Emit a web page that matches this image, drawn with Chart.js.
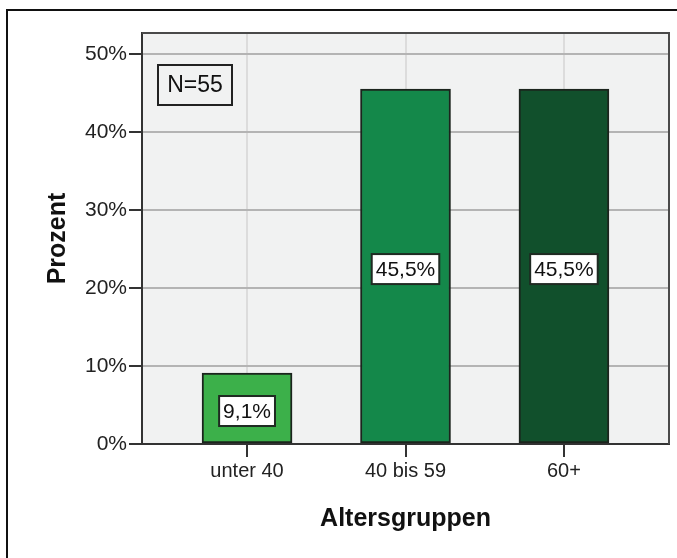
<!DOCTYPE html>
<html>
<head>
<meta charset="utf-8">
<script src="https://cdn.jsdelivr.net/npm/chart.js@4/dist/chart.umd.min.js"></script>
<style>
  body { margin: 0; background: #fff; }
  #wrap { position: relative; width: 677px; height: 558px; }
  #frame { position: absolute; left: 6px; top: 9px; right: 0; bottom: 0;
           border-top: 2px solid #111; border-left: 2px solid #111; pointer-events: none; }
</style>
</head>
<body>
<div id="wrap">
  <canvas id="chart" width="677" height="558"></canvas>
  <div id="frame"></div>
</div>
<script>
// Altersgruppen, Anteil in Prozent
const categories = ['unter 40', '40 bis 59', '60+'];
const percents = [9.1, 45.5, 45.5];
const barColors = ['#3cb04a', '#14884a', '#11502c'];
const sampleNote = 'N=55';
const xTitle = 'Altersgruppen';
const yTitle = 'Prozent';

const FONT = 'Arial, "Liberation Sans", sans-serif';

const fmtPct = (v) => v.toFixed(1).replace('.', ',') + '%';

// Hintergrund, Rahmen und Beschriftungen im Plotbereich
const plotDecor = {
    id: 'plotDecor',
    beforeDraw(chart) {
        const { ctx, chartArea: a } = chart;
        ctx.save();
        ctx.fillStyle = '#f1f2f2';
        ctx.fillRect(a.left, a.top, a.right - a.left, a.bottom - a.top);
        ctx.restore();
    },
    afterDatasetsDraw(chart) {
        const { ctx, chartArea: a } = chart;
        ctx.save();

        // Rahmen oben/rechts
        ctx.strokeStyle = '#4a4a4a';
        ctx.lineWidth = 2;
        ctx.beginPath();
        ctx.moveTo(a.left, a.top);
        ctx.lineTo(a.right, a.top);
        ctx.lineTo(a.right, a.bottom);
        ctx.stroke();

        // Werte-Boxen in den Balken
        ctx.font = '21px ' + FONT;
        ctx.textAlign = 'center';
        ctx.textBaseline = 'middle';
        const meta = chart.getDatasetMeta(0);
        meta.data.forEach((bar, i) => {
            const txt = fmtPct(percents[i]);
            const w = ctx.measureText(txt).width + 8;
            const h = 30;
            const cy = (bar.y + bar.base) / 2 + 3;
            ctx.fillStyle = '#fff';
            ctx.fillRect(bar.x - w / 2, cy - h / 2, w, h);
            ctx.strokeStyle = '#1f2a22';
            ctx.lineWidth = 2;
            ctx.strokeRect(bar.x - w / 2, cy - h / 2, w, h);
            ctx.fillStyle = '#111';
            ctx.fillText(txt, bar.x, cy + 1);
        });

        // N-Box oben links
        ctx.font = '23px ' + FONT;
        const nx = a.left + 16, ny = a.top + 32, nw = 74, nh = 40;
        ctx.fillStyle = '#f1f2f2';
        ctx.fillRect(nx, ny, nw, nh);
        ctx.strokeStyle = '#222';
        ctx.strokeRect(nx, ny, nw, nh);
        ctx.fillStyle = '#111';
        ctx.fillText(sampleNote, nx + nw / 2, ny + nh / 2 + 1);

        ctx.restore();
    }
};

new Chart(document.getElementById('chart'), {
    type: 'bar',
    data: {
        datasets: [{
            data: percents.map((v, i) => ({ x: i, y: v })),
            backgroundColor: barColors,
            borderColor: '#1b241d',
            borderWidth: 2,
            borderSkipped: false,
            barThickness: 90
        }]
    },
    options: {
        responsive: false,
        animation: false,
        layout: { padding: { left: 0, top: 33, right: 8, bottom: 0 } },
        plugins: {
            legend: { display: false },
            tooltip: { enabled: false }
        },
        scales: {
            x: {
                type: 'linear',
                min: -0.663,
                max: 2.663,
                offset: false,
                afterBuildTicks: (s) => { s.ticks = categories.map((c, i) => ({ value: i })); },
                afterFit: (s) => { s.height = 114; },
                ticks: {
                    callback: (v) => categories[v],
                    color: '#222',
                    font: { family: FONT, size: 20 },
                    padding: 2
                },
                grid: {
                    offset: false,
                    color: '#dcdcdc',
                    lineWidth: 2,
                    tickColor: '#333',
                    tickLength: 13,
                    tickWidth: 2
                },
                border: { color: '#333', width: 2 },
                title: {
                    display: true,
                    text: xTitle,
                    color: '#111',
                    font: { family: FONT, size: 25, weight: 'bold' },
                    padding: { top: 0, bottom: 24 }
                }
            },
            y: {
                min: 0,
                max: 52.7,
                afterFit: (s) => { s.width = 142; },
                ticks: {
                    stepSize: 10,
                    includeBounds: false,
                    callback: (v) => v + '%',
                    color: '#222',
                    font: { family: FONT, size: 21 },
                    padding: 2
                },
                grid: {
                    color: '#b4b4b4',
                    lineWidth: 2,
                    tickColor: '#333',
                    tickLength: 13,
                    tickWidth: 2
                },
                border: { color: '#333', width: 2 },
                title: {
                    display: true,
                    text: yTitle,
                    color: '#111',
                    font: { family: FONT, size: 25, weight: 'bold' },
                    padding: { top: 43, bottom: 0 }
                }
            }
        }
    },
    plugins: [plotDecor]
});
</script>
</body>
</html>
